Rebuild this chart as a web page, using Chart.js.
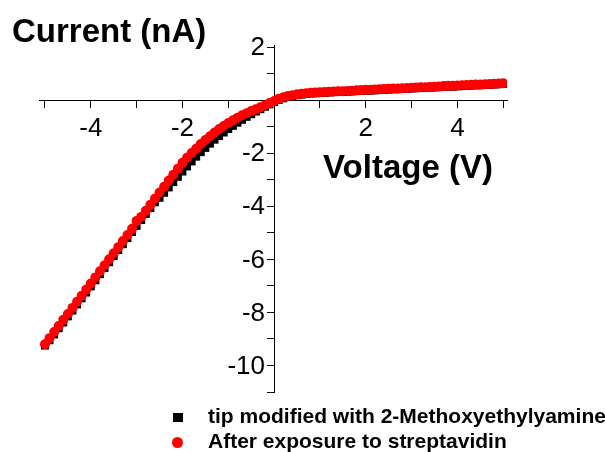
<!DOCTYPE html>
<html>
<head>
<meta charset="utf-8">
<script src="https://cdn.jsdelivr.net/npm/chart.js@4.4.0/dist/chart.umd.min.js"></script>
<style>
  html, body { margin: 0; padding: 0; background: #fff; }
</style>
</head>
<body>
<canvas id="myChart" width="605" height="452"></canvas>
<script>
// Data
const voltage = [
  -5.0, -4.9, -4.8, -4.7, -4.6, -4.5, -4.4, -4.3, -4.2, -4.1,
  -4.0, -3.9, -3.8, -3.7, -3.6, -3.5, -3.4, -3.3, -3.2, -3.1,
  -3.0, -2.9, -2.8, -2.7, -2.6, -2.5, -2.4, -2.3, -2.2, -2.1,
  -2.0, -1.9, -1.8, -1.7, -1.6, -1.5, -1.4, -1.3, -1.2, -1.1,
  -1.0, -0.9, -0.8, -0.7, -0.6, -0.5, -0.4, -0.3, -0.2, -0.1,
  0.0, 0.1, 0.2, 0.3, 0.4, 0.5, 0.6, 0.7, 0.8, 0.9,
  1.0, 1.1, 1.2, 1.3, 1.4, 1.5, 1.6, 1.7, 1.8, 1.9,
  2.0, 2.1, 2.2, 2.3, 2.4, 2.5, 2.6, 2.7, 2.8, 2.9,
  3.0, 3.1, 3.2, 3.3, 3.4, 3.5, 3.6, 3.7, 3.8, 3.9,
  4.0, 4.1, 4.2, 4.3, 4.4, 4.5, 4.6, 4.7, 4.8, 4.9,
  5.0
];

// tip modified with 2-Methoxyethylyamine (black squares)
const currentTip = [
  -9.25, -9.05, -8.83, -8.60, -8.38, -8.15, -7.93, -7.70, -7.47, -7.25,
  -7.02, -6.79, -6.56, -6.33, -6.11, -5.88, -5.65, -5.43, -5.20, -4.97,
  -4.74, -4.52, -4.29, -4.07, -3.85, -3.68, -3.49, -3.29, -3.09, -2.89,
  -2.69, -2.50, -2.31, -2.13, -1.96, -1.80, -1.64, -1.49, -1.35, -1.22,
  -1.09, -0.97, -0.85, -0.74, -0.63, -0.53, -0.43, -0.34, -0.25, -0.16,
  -0.07, 0.01, 0.07, 0.12, 0.16, 0.19, 0.21, 0.23, 0.25, 0.26,
  0.27, 0.28, 0.29, 0.30, 0.31, 0.31, 0.32, 0.33, 0.34, 0.35,
  0.36, 0.36, 0.37, 0.38, 0.39, 0.40, 0.41, 0.41, 0.42, 0.43,
  0.44, 0.45, 0.46, 0.46, 0.47, 0.48, 0.49, 0.50, 0.51, 0.51,
  0.52, 0.53, 0.54, 0.55, 0.56, 0.56, 0.57, 0.58, 0.59, 0.60,
  0.61
];

// After exposure to streptavidin (red circles)
const currentStrep = [
  -9.20, -8.97, -8.74, -8.51, -8.28, -8.06, -7.83, -7.60, -7.37, -7.14,
  -6.91, -6.68, -6.45, -6.22, -6.00, -5.77, -5.54, -5.31, -5.08, -4.85,
  -4.55, -4.40, -4.17, -3.94, -3.71, -3.48, -3.26, -3.03, -2.81, -2.58,
  -2.36, -2.17, -1.99, -1.82, -1.65, -1.50, -1.36, -1.22, -1.09, -0.97,
  -0.86, -0.76, -0.66, -0.57, -0.49, -0.41, -0.34, -0.27, -0.19, -0.11,
  -0.03, 0.05, 0.11, 0.16, 0.19, 0.22, 0.24, 0.26, 0.28, 0.29,
  0.30, 0.31, 0.32, 0.33, 0.34, 0.34, 0.35, 0.36, 0.37, 0.38,
  0.39, 0.39, 0.40, 0.41, 0.42, 0.43, 0.44, 0.44, 0.45, 0.46,
  0.47, 0.48, 0.49, 0.49, 0.50, 0.51, 0.52, 0.53, 0.54, 0.54,
  0.55, 0.56, 0.57, 0.58, 0.59, 0.59, 0.60, 0.61, 0.62, 0.63,
  0.64
];

const seriesLabels = ['tip modified with 2-Methoxyethylyamine', 'After exposure to streptavidin'];
const xTickLabels = [-4, -2, 2, 4];
const yTickLabels = [2, -2, -4, -6, -8, -10];
const xTitle = 'Voltage (V)';
const yTitle = 'Current (nA)';

const FONT = '"Liberation Sans", Arial, sans-serif';

// axis titles, y tick labels and legend, drawn on the canvas
const extraText = {
  id: 'extraText',
  afterDraw(chart) {
    const ctx = chart.ctx;
    const yScale = chart.scales.y;
    ctx.save();
    ctx.fillStyle = '#000';

    // y tick labels sit left of the centred axis
    ctx.font = '26px ' + FONT;
    ctx.textAlign = 'right';
    ctx.textBaseline = 'middle';
    yTickLabels.forEach(v => {
      ctx.fillText(String(v), 265, yScale.getPixelForValue(v) + 1);
    });

    ctx.textAlign = 'left';
    ctx.textBaseline = 'alphabetic';
    ctx.font = 'bold 33px ' + FONT;
    ctx.fillText(yTitle, 12, 42);
    ctx.fillText(xTitle, 323, 178);

    ctx.font = 'bold 21px ' + FONT;
    // black square
    ctx.fillStyle = '#000';
    ctx.fillRect(173, 413, 10, 9);
    ctx.fillText(seriesLabels[0], 208, 423);
    // red dot
    ctx.fillStyle = '#ff0000';
    ctx.beginPath();
    ctx.arc(177.5, 442.5, 5.5, 0, Math.PI * 2);
    ctx.fill();
    ctx.fillStyle = '#000';
    ctx.fillText(seriesLabels[1], 208, 448);
    ctx.restore();
  }
};

const ctx = document.getElementById('myChart');
new Chart(ctx, {
  type: 'scatter',
  data: {
    datasets: [{
      label: seriesLabels[0],
      data: voltage.map((v, i) => ({ x: v, y: currentTip[i] })),
      pointStyle: 'rect',
      pointRadius: 5.6,
      pointBorderWidth: 0,
      backgroundColor: '#000',
      borderColor: '#000',
      order: 2
    }, {
      label: seriesLabels[1],
      data: voltage.map((v, i) => ({ x: v, y: currentStrep[i] })),
      pointStyle: 'circle',
      pointRadius: 5,
      pointBorderWidth: 0,
      backgroundColor: '#ff0000',
      borderColor: '#ff0000',
      order: 1
    }]
  },
  options: {
    responsive: false,
    animation: false,
    layout: { padding: { left: 39, right: 98, top: 45, bottom: 60 } },
    plugins: {
      legend: { display: false },
      tooltip: { enabled: false }
    },
    scales: {
      x: {
        type: 'linear',
        position: { y: 0 },
        min: -5.13,
        max: 5.08,
        border: { color: '#000', width: 1 },
        grid: { drawOnChartArea: false, color: '#000', tickLength: 7 },
        ticks: {
          stepSize: 1,
          includeBounds: false,
          autoSkip: false,
          maxRotation: 0,
          color: '#000',
          padding: 6,
          font: { family: FONT, size: 26 },
          callback: (val) => xTickLabels.includes(val) ? String(val) : ''
        }
      },
      y: {
        type: 'linear',
        position: { x: 0 },
        min: -11,
        max: 2.08,
        border: { color: '#000', width: 1 },
        grid: { drawOnChartArea: false, color: '#000', tickLength: 7 },
        ticks: {
          stepSize: 1,
          includeBounds: false,
          autoSkip: false,
          color: '#000',
          // labels are drawn by the extraText plugin
          callback: () => ''
        }
      }
    }
  },
  plugins: [extraText]
});
</script>
</body>
</html>
